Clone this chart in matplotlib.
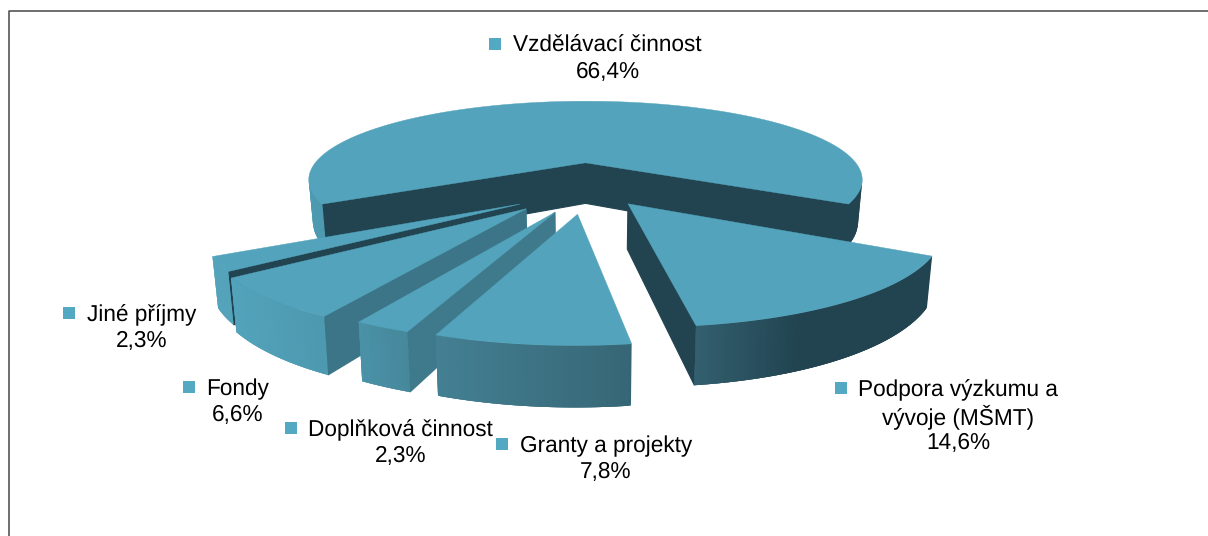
import numpy as np
import matplotlib
matplotlib.use("Agg")
import matplotlib.pyplot as plt
from matplotlib.colors import LinearSegmentedColormap, Normalize
from matplotlib.patches import Polygon, Rectangle

plt.rcParams['font.family'] = ['Liberation Sans', 'DejaVu Sans']
plt.rcParams['text.hinting'] = 'no_hinting'

# data
labels = [["Vzdělávací činnost"], ["Podpora výzkumu a", "vývoje (MŠMT)"], ["Granty a projekty"],
          ["Doplňková činnost"], ["Fondy"], ["Jiné příjmy"]]
shares = [66.4, 14.6, 7.8, 2.3, 6.6, 2.3]

# label placement, pixels: x of block centre, y of first line, x of marker centre
label_x = [607.5, 958, 606, 400.5, 237.5, 142]
label_y = [46, 390, 446, 430, 389, 315]
marker_x = [495, 841, 502, 291, 189, 69]

# drawing order back to front, index into shares
draw_order = [0, 1, 5, 4, 3, 2]
cut_colors = ["#224451", "#224451", "#3f7a8c", "#3f7a8c", "#3b7587", "#224451"]
top_color = "#52a3bb"
marker_color = "#52a9c1"

# projection of the pie
cx, cy = 585.5, 192
radius_px = 293
depth_px = 88
persp = 0.234
thick = 44
shrink = 0.985
# how far each slice is pulled out, sideways and towards the viewer
explode_x = [0.0, 0.25, 0.24, 0.24, 0.30, 0.26]
explode_z = [0.36, 0.157, 0.24, 0.24, 0.24, 0.24]

wall_cmap = LinearSegmentedColormap.from_list("wall", [
    (0.0, "#52a3bb"), (0.19, "#4c97ad"), (0.37, "#437f92"),
    (0.71, "#366675"), (0.82, "#335f6f"), (1.0, "#224451")])
wall_norm = Normalize(230, 800)


def project(x, z, bottom=False):
    s = 1 / (1 - persp * z)
    if bottom:
        return cx + radius_px * x * s * shrink, cy + depth_px * z * s + thick * s
    return cx + radius_px * x * s, cy + depth_px * z * s


def ground(angle, r, mid, i):
    # angle in degrees clockwise from the back of the pie
    a = np.radians(angle)
    m = np.radians(mid)
    return r * np.sin(a) + explode_x[i] * np.sin(m), -r * np.cos(a) - explode_z[i] * np.cos(m)


def cross(a, b):
    return a[0] * b[1] - a[1] * b[0]


def faces_viewer(p, q, inner):
    # the wall below edge p-q shows if the inside of the slice lies on the other side
    edge = (q[0] - p[0], q[1] - p[1])
    return cross(edge, (0, 1)) * cross(edge, (inner[0] - p[0], inner[1] - p[1])) < 0


fig = plt.figure(figsize=(12.08, 5.36), dpi=100)
ax = fig.add_axes([0, 0, 1, 1])
ax.set_xlim(0, 1208)
ax.set_ylim(536, 0)
ax.axis('off')

# frame, only left and top are in the picture
ax.plot([9, 9, 1208], [536, 10.5, 10.5], color="#555555", lw=1.2)

# slice angles, first slice centred on the back of the pie
spans = np.array(shares) * 3.6
starts = -spans[0] / 2 + np.concatenate([[0], np.cumsum(spans)[:-1]])

for i in draw_order:
    a0 = starts[i]
    a1 = a0 + spans[i]
    mid = (a0 + a1) / 2
    angles = np.linspace(a0, a1, 120)

    top = [project(*ground(a, 1, mid, i)) for a in angles]
    low = [project(*ground(a, 1, mid, i), bottom=True) for a in angles]
    apex = project(*ground(0, 0, mid, i))
    apex_low = project(*ground(0, 0, mid, i), bottom=True)
    inner = project(*ground(mid, 0.5, mid, i))

    # radial cut faces
    for p, p_low in [(top[0], low[0]), (top[-1], low[-1])]:
        if faces_viewer(apex, p, inner):
            ax.add_patch(Polygon([apex, p, p_low, apex_low], closed=True,
                                 fc=cut_colors[i], ec=cut_colors[i], lw=0.8))

    # outer wall, shaded by position; strips overlap so no seams show
    for k in range(len(top) - 1):
        if faces_viewer(top[k], top[k + 1], apex):
            n = min(k + 3, len(top) - 1)
            colour = wall_cmap(wall_norm((top[k][0] + top[k + 1][0]) / 2))
            ax.add_patch(Polygon([top[k], top[n], low[n], low[k]], closed=True,
                                 fc=colour, ec='none'))

    # top surface
    ax.add_patch(Polygon([apex] + top, closed=True, fc=top_color, ec=top_color, lw=0.3))

# labels
for i in range(len(shares)):
    lines = labels[i] + [f"{shares[i]:.1f}%".replace(".", ",")]
    for j, line in enumerate(lines):
        ax.text(label_x[i], label_y[i] + j * 26.6, line, ha='center', va='center',
                fontsize=16.3, color="black")
    ax.add_patch(Rectangle((marker_x[i] - 6, label_y[i] - 8.5), 12, 12, fc=marker_color, ec='none'))

plt.savefig("out.png", dpi=100)
plt.close()
